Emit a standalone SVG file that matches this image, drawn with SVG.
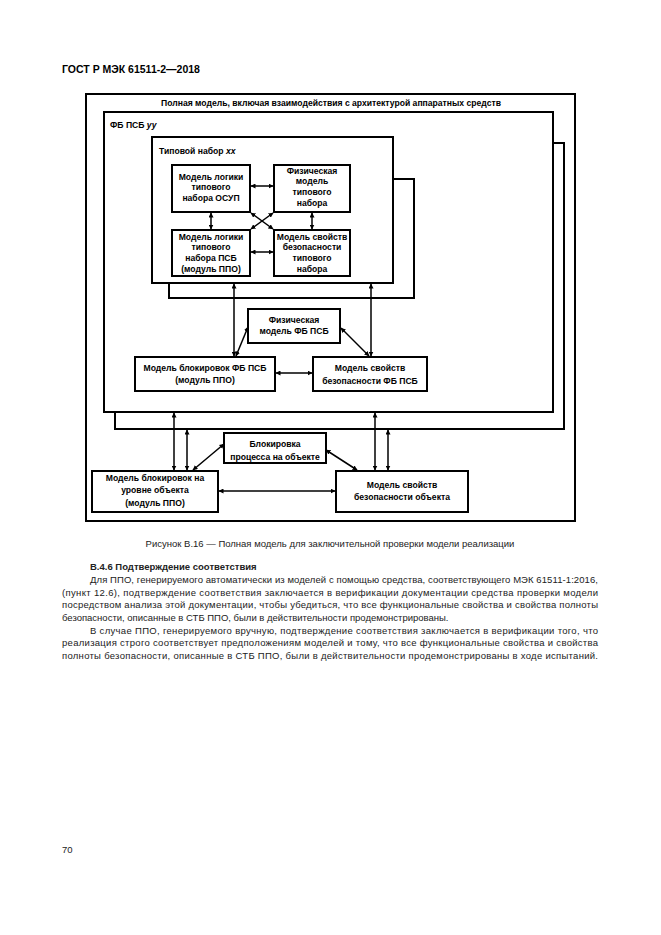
<svg xmlns="http://www.w3.org/2000/svg" width="661" height="935" viewBox="0 0 661 935">
<style>
.frame{fill:none;stroke:#000;stroke-width:2}
.box{fill:#fff;stroke:#000;stroke-width:2}
.sh{fill:none;stroke:#000;stroke-width:2}
.c{fill:none;stroke:#000;stroke-width:1.5;marker-start:url(#ah);marker-end:url(#ah)}
.t{font-family:"Liberation Sans",Arial,sans-serif;font-size:8.6px;font-weight:bold;fill:#000;text-anchor:middle}
.tl{font-family:"Liberation Sans",Arial,sans-serif;font-size:8.6px;font-weight:bold;fill:#000}
.p{font-family:"Liberation Sans",Arial,sans-serif;font-size:9.5px;fill:#222}
</style>
<defs>
<marker id="ah" viewBox="0 0 10 10" refX="9" refY="5" markerWidth="5" markerHeight="5" markerUnits="userSpaceOnUse" orient="auto-start-reverse">
<path d="M0,0 L10,5 L0,10 z" fill="#000"/>
</marker>
</defs>
<rect width="661" height="935" fill="#fff"/>
<text x="62" y="73" style="font-family:'Liberation Sans',Arial,sans-serif;font-size:10.5px;font-weight:bold" fill="#000">ГОСТ Р МЭК 61511-2—2018</text>

<g id="outer">
<rect class="frame" x="86" y="94" width="489" height="427"/>
<text class="t" x="331" y="106">Полная модель, включая взаимодействия с архитектурой аппаратных средств</text>
</g>

<g id="fb">
<polyline class="sh" points="553,143 564,143 564,429 115,429 115,412"/>
<rect class="frame" x="104" y="112" width="449" height="300"/>
<text class="tl" x="110" y="128">ФБ ПСБ <tspan font-style="italic">уу</tspan></text>
</g>

<g id="typset">
<polyline class="sh" points="393,179 414,179 414,298 169,298 169,283"/>
<rect class="frame" x="152" y="137" width="241" height="146"/>
<text class="tl" x="159" y="154">Типовой набор <tspan font-style="italic">хх</tspan></text>
</g>

<g id="n1">
<rect class="box" x="172" y="165" width="78" height="47"/>
<text class="t" x="211" y="180">Модель логики</text>
<text class="t" x="211" y="190">типового</text>
<text class="t" x="211" y="201">набора ОСУП</text>
</g>
<g id="n2">
<rect class="box" x="274" y="165" width="76" height="47"/>
<text class="t" x="312" y="174">Физическая</text>
<text class="t" x="312" y="184">модель</text>
<text class="t" x="312" y="195">типового</text>
<text class="t" x="312" y="206">набора</text>
</g>
<g id="n3">
<rect class="box" x="172" y="230" width="78" height="46"/>
<text class="t" x="211" y="240">Модель логики</text>
<text class="t" x="211" y="250">типового</text>
<text class="t" x="211" y="261">набора ПСБ</text>
<text class="t" x="211" y="272">(модуль ППО)</text>
</g>
<g id="n4">
<rect class="box" x="274" y="230" width="76" height="46"/>
<text class="t" x="312" y="240">Модель свойств</text>
<text class="t" x="312" y="250">безопасности</text>
<text class="t" x="312" y="261">типового</text>
<text class="t" x="312" y="272">набора</text>
</g>

<g id="n5">
<rect class="box" x="248" y="309" width="92" height="34"/>
<text class="t" x="294" y="323">Физическая</text>
<text class="t" x="294" y="334">модель ФБ ПСБ</text>
</g>
<g id="n6">
<rect class="box" x="135" y="357" width="140" height="34"/>
<text class="t" x="205" y="371">Модель блокировок ФБ ПСБ</text>
<text class="t" x="205" y="383">(модуль ППО)</text>
</g>
<g id="n7">
<rect class="box" x="313" y="357" width="114" height="34"/>
<text class="t" x="370" y="371">Модель свойств</text>
<text class="t" x="370" y="384">безопасности ФБ ПСБ</text>
</g>

<g id="n8">
<rect class="box" x="224" y="433" width="102" height="30"/>
<text class="t" x="275" y="447">Блокировка</text>
<text class="t" x="275" y="460">процесса на объекте</text>
</g>
<g id="n9">
<rect class="box" x="92" y="471" width="126" height="41"/>
<text class="t" x="155" y="481">Модель блокировок на</text>
<text class="t" x="155" y="493">уровне объекта</text>
<text class="t" x="155" y="506">(модуль ППО)</text>
</g>
<g id="n10">
<rect class="box" x="336" y="471" width="132" height="41"/>
<text class="t" x="402" y="488">Модель свойств</text>
<text class="t" x="402" y="500">безопасности объекта</text>
</g>

<g id="connectors">
<line class="c" x1="251" y1="186" x2="273" y2="186"/>
<line class="c" x1="251" y1="252" x2="273" y2="252"/>
<line class="c" x1="211" y1="213" x2="211" y2="229"/>
<line class="c" x1="312" y1="213" x2="312" y2="229"/>
<line class="c" x1="251" y1="213" x2="273" y2="229"/>
<line class="c" x1="251" y1="229" x2="273" y2="213"/>
<line class="c" x1="234" y1="284" x2="234" y2="356"/>
<line class="c" x1="371" y1="284" x2="371" y2="356"/>
<line class="c" x1="248" y1="327" x2="236" y2="356"/>
<line class="c" x1="341" y1="328" x2="369" y2="356"/>
<line class="c" x1="276" y1="373" x2="312" y2="373"/>
<line class="c" x1="174" y1="413" x2="174" y2="470"/>
<line class="c" x1="187" y1="430" x2="187" y2="470"/>
<line class="c" x1="375" y1="413" x2="375" y2="470"/>
<line class="c" x1="388" y1="430" x2="388" y2="470"/>
<line class="c" x1="224" y1="444" x2="193" y2="470"/>
<line class="c" x1="326" y1="450" x2="357" y2="470"/>
<line class="c" x1="219" y1="491" x2="335" y2="491"/>
</g>

<text class="p" x="330" y="547" text-anchor="middle">Рисунок В.16 — Полная модель для заключительной проверки модели реализации</text>
<text class="p" x="90" y="570" font-weight="bold" fill="#000">В.4.6 Подтверждение соответствия</text>
<text class="p" x="90" y="583" textLength="508" lengthAdjust="spacing">Для ППО, генерируемого автоматически из моделей с помощью средства, соответствующего МЭК 61511-1:2016,</text>
<text class="p" x="62" y="596" textLength="536" lengthAdjust="spacing">(пункт 12.6), подтверждение соответствия заключается в верификации документации средства проверки модели</text>
<text class="p" x="62" y="608" textLength="536" lengthAdjust="spacing">посредством анализа этой документации, чтобы убедиться, что все функциональные свойства и свойства полноты</text>
<text class="p" x="62" y="621">безопасности, описанные в СТБ ППО, были в действительности продемонстрированы.</text>
<text class="p" x="90" y="634" textLength="508" lengthAdjust="spacing">В случае ППО, генерируемого вручную, подтверждение соответствия заключается в верификации того, что</text>
<text class="p" x="62" y="646" textLength="536" lengthAdjust="spacing">реализация строго соответствует предположениям моделей и тому, что все функциональные свойства и свойства</text>
<text class="p" x="62" y="659" textLength="536" lengthAdjust="spacing">полноты безопасности, описанные в СТБ ППО, были в действительности продемонстрированы в ходе испытаний.</text>
<text class="p" x="62" y="853" fill="#000">70</text>
</svg>
